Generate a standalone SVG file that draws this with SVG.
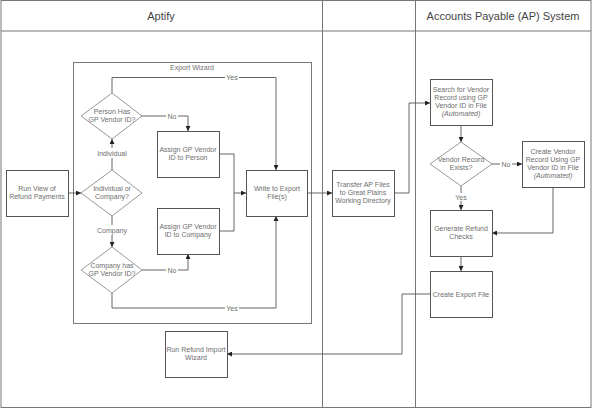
<svg xmlns="http://www.w3.org/2000/svg" width="592" height="408" viewBox="0 0 592 408">
<defs>
<marker id="ah" viewBox="0 0 6 6" refX="6" refY="3" markerWidth="5" markerHeight="5" orient="auto" markerUnits="userSpaceOnUse">
<path d="M0,0 L6,3 L0,6 z" fill="#222"/>
</marker>
<style>
text{font-family:"Liberation Sans",Arial,sans-serif;fill:#6e6e6e;font-size:7px;text-anchor:middle}
.title{font-size:11px;fill:#444}
.box{fill:#fff;stroke:#555;stroke-width:1}
.dia{fill:#fff;stroke:#999;stroke-width:1}
.lane{fill:none;stroke:#777;stroke-width:1}
.c{fill:none;stroke:#555;stroke-width:0.9}
.ca{fill:none;stroke:#555;stroke-width:0.9;marker-end:url(#ah)}
.lbl{fill:#6e6e6e}
.bg{fill:#fff}
</style>
</defs>
<rect x="0" y="0" width="592" height="408" fill="#fff"/>
<g id="pool">
<rect class="lane" x="1" y="0.5" width="590" height="407"/>
<line class="lane" x1="1" y1="31" x2="591" y2="31"/>
<line class="lane" x1="322.5" y1="0.5" x2="322.5" y2="407.5"/>
<line class="lane" x1="415.5" y1="0.5" x2="415.5" y2="407.5"/>
<text class="title" x="161" y="20">Aptify</text>
<text class="title" x="503" y="20">Accounts Payable (AP) System</text>
</g>
<g id="export-wizard">
<rect class="lane" x="73.5" y="62.5" width="238" height="261" stroke="#666"/>
<text x="192" y="70">Export Wizard</text>
</g>
<g id="connectors">
<line class="ca" x1="68" y1="193" x2="81" y2="193"/>
<line class="ca" x1="112" y1="170" x2="112" y2="139"/>
<line class="ca" x1="112" y1="216" x2="112" y2="247"/>
<polyline class="ca" points="142,116 188,116 188,131"/>
<polyline class="ca" points="112,93 112,77.5 276,77.5 276,170"/>
<polyline class="ca" points="142,270 188,270 188,254"/>
<polyline class="ca" points="112,293 112,308 276,308 276,216"/>
<polyline class="c" points="219,154 234,154 234,193"/>
<polyline class="ca" points="219,231 234,231 234,193 246,193"/>
<line class="ca" x1="307" y1="193" x2="332" y2="193"/>
<polyline class="ca" points="394,193 409,193 409,103 430,103"/>
<line class="ca" x1="461" y1="126" x2="461" y2="142"/>
<line class="ca" x1="492" y1="164" x2="522" y2="164"/>
<line class="ca" x1="461" y1="186" x2="461" y2="210"/>
<polyline class="ca" points="553,187 553,233 492,233"/>
<line class="ca" x1="461" y1="256" x2="461" y2="271"/>
<polyline class="ca" points="430,294 402,294 402,354 227,354"/>
<rect class="bg" x="95" y="148" width="34" height="10"/>
<text x="112" y="156">Individual</text>
<rect class="bg" x="96" y="225" width="32" height="10"/>
<text x="112" y="233">Company</text>
<rect class="bg" x="166" y="112" width="12" height="8"/>
<text x="172" y="119">No</text>
<rect class="bg" x="166" y="266" width="12" height="8"/>
<text x="172" y="273">No</text>
<rect class="bg" x="225" y="73" width="14" height="8"/>
<text x="232" y="80">Yes</text>
<rect class="bg" x="225" y="304" width="14" height="8"/>
<text x="232" y="311">Yes</text>
<rect class="bg" x="500" y="160" width="12" height="8"/>
<text x="506" y="167">No</text>
<rect class="bg" x="454" y="193" width="14" height="8"/>
<text x="461" y="200">Yes</text>
</g>
<g id="run-view">
<rect class="box" x="6.5" y="170.5" width="62" height="46"/>
<text x="37" y="191">Run View of</text>
<text x="37" y="199">Refund Payments</text>
</g>
<g id="ind-or-comp">
<polygon class="dia" points="112,170 142,193 112,216 81,193"/>
<text x="112" y="191">Individual or</text>
<text x="112" y="199">Company?</text>
</g>
<g id="person-has">
<polygon class="dia" points="112,93 142,116 112,139 81,116"/>
<text x="112" y="114">Person Has</text>
<text x="112" y="122">GP Vendor ID?</text>
</g>
<g id="company-has">
<polygon class="dia" points="112,247 142,270 112,293 81,270"/>
<text x="112" y="268">Company has</text>
<text x="112" y="276">GP Vendor ID?</text>
</g>
<g id="assign-person">
<rect class="box" x="157.5" y="131.5" width="62" height="46"/>
<text x="188" y="152">Assign GP Vendor</text>
<text x="188" y="160">ID to Person</text>
</g>
<g id="assign-company">
<rect class="box" x="157.5" y="208.5" width="62" height="46"/>
<text x="188" y="229">Assign GP Vendor</text>
<text x="188" y="237">ID to Company</text>
</g>
<g id="write-export">
<rect class="box" x="246.5" y="170.5" width="61" height="46"/>
<text x="277" y="191">Write to Export</text>
<text x="277" y="199">File(s)</text>
</g>
<g id="transfer">
<rect class="box" x="332.5" y="170.5" width="62" height="46"/>
<text x="363" y="187">Transfer AP Files</text>
<text x="363" y="195">to Great Plains</text>
<text x="363" y="203">Working Directory</text>
</g>
<g id="search">
<rect class="box" x="430.5" y="79.5" width="62" height="46"/>
<text x="461" y="92">Search for Vendor</text>
<text x="461" y="100">Record using GP</text>
<text x="461" y="108">Vendor ID in File</text>
<text x="461" y="116" font-style="italic">(Automated)</text>
</g>
<g id="vendor-exists">
<polygon class="dia" points="461,142 492,164 461,186 430,164"/>
<text x="461" y="162">Vendor Record</text>
<text x="461" y="170">Exists?</text>
</g>
<g id="create-vendor">
<rect class="box" x="522.5" y="141.5" width="62" height="46"/>
<text x="553" y="154">Create Vendor</text>
<text x="553" y="162">Record Using GP</text>
<text x="553" y="170">Vendor ID in File</text>
<text x="553" y="178" font-style="italic">(Automated)</text>
</g>
<g id="generate">
<rect class="box" x="430.5" y="210.5" width="62" height="46"/>
<text x="461" y="231">Generate Refund</text>
<text x="461" y="239">Checks</text>
</g>
<g id="create-export">
<rect class="box" x="430.5" y="271.5" width="62" height="46"/>
<text x="461" y="297">Create Export File</text>
</g>
<g id="run-import">
<rect class="box" x="165.5" y="331.5" width="62" height="46"/>
<text x="196" y="352">Run Refund Import</text>
<text x="196" y="360">Wizard</text>
</g>
</svg>
